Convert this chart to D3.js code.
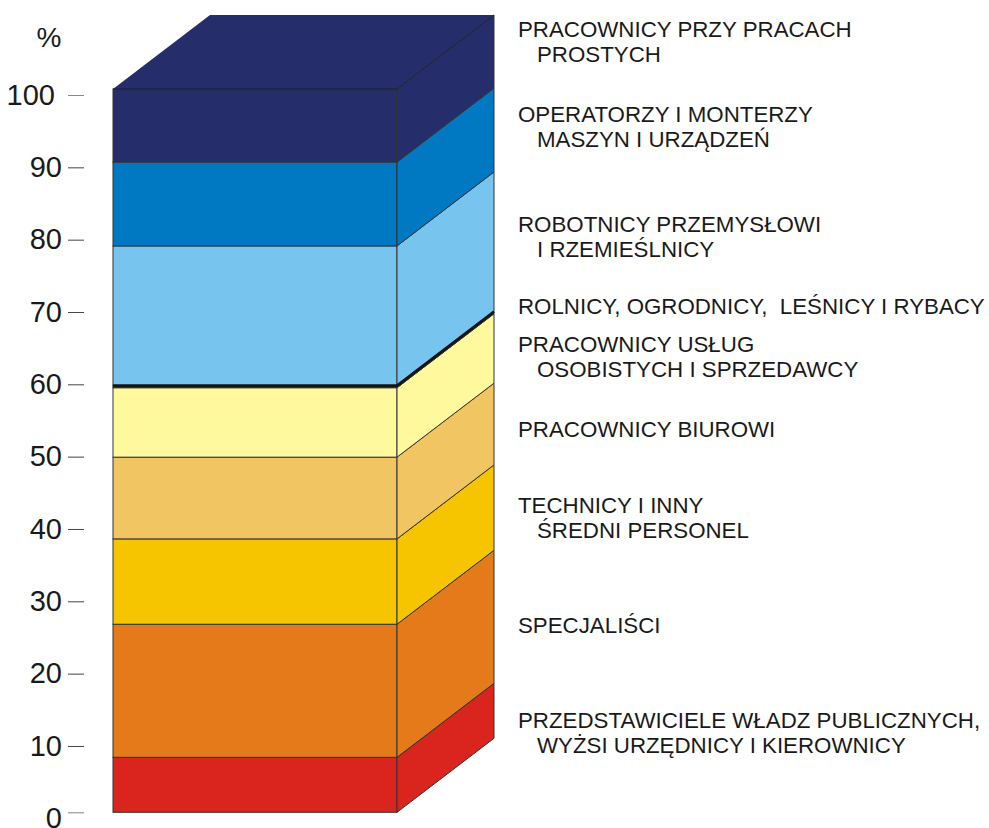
<!DOCTYPE html>
<html>
<head>
<meta charset="utf-8">
<script src="https://cdn.jsdelivr.net/npm/d3@7"></script>
<style>
  body { margin: 0; background: #fff; }
  svg { display: block; font-family: "Liberation Sans", Arial, sans-serif; }
  .lbl { font-size: 22.3px; fill: #1a1a1a; white-space: pre; }
  .axis text { font-size: 29px; fill: #1a1a1a; font-family: "Liberation Sans", Arial, sans-serif; }
  .axis line { stroke: #444; }
</style>
</head>
<body>
<svg id="chart" width="989" height="828"></svg>
<script>
// occupational groups, bottom of the column to the top
var keys = ['kier', 'spec', 'tech', 'biur', 'uslug', 'roln', 'robot', 'oper', 'prost']
var labels = [
  ['PRZEDSTAWICIELE WŁADZ PUBLICZNYCH,', 'WYŻSI URZĘDNICY I KIEROWNICY'],
  ['SPECJALIŚCI'],
  ['TECHNICY I INNY', 'ŚREDNI PERSONEL'],
  ['PRACOWNICY BIUROWI'],
  ['PRACOWNICY USŁUG', 'OSOBISTYCH I SPRZEDAWCY'],
  ['ROLNICY, OGRODNICY,  LEŚNICY I RYBACY'],
  ['ROBOTNICY PRZEMYSŁOWI', 'I RZEMIEŚLNICY'],
  ['OPERATORZY I MONTERZY', 'MASZYN I URZĄDZEŃ'],
  ['PRACOWNICY PRZY PRACACH', 'PROSTYCH']
]
var values = [7.6, 18.4, 11.8, 11.3, 9.6, 0.3, 19.3, 11.6, 10.1]
var colors = ['#d9251e', '#e57a1a', '#f7c400', '#f0c562', '#fff99d', '#151515', '#77c5ef', '#0079c2', '#252d6a']
var ticks = [0, 10, 20, 30, 40, 50, 60, 70, 80, 90, 100]
// small vertical nudges for the labels next to the column
var labelNudge = [22, 8, 10, 5, 8, -7, -5, -4, -10]

var svg = d3.select('#chart')

var barLeft = 113, barRight = 397, depthX = 97, depthY = -74

var y = d3.scaleLinear().domain([0, 100]).range([812.3, 89])
var yAxisScale = d3.scaleLinear().domain([0, 100]).range([818.3, 95])

var row = {}
keys.forEach(function(k, i) { row[k] = values[i] })
var series = d3.stack().keys(keys)([row])

var g = svg.append('g')

series.forEach(function(s, i) {
  var y0 = y(s[0][0]), y1 = y(s[0][1])
  g.append('rect')
    .attr('x', barLeft)
    .attr('y', y1)
    .attr('width', barRight - barLeft)
    .attr('height', y0 - y1)
    .attr('fill', colors[i])
    .attr('stroke', '#333')
    .attr('stroke-width', 1)
  g.append('polygon')
    .attr('points', [
      [barRight, y1], [barRight + depthX, y1 + depthY],
      [barRight + depthX, y0 + depthY], [barRight, y0]
    ].join(' '))
    .attr('fill', colors[i])
    .attr('stroke', '#333')
    .attr('stroke-width', 1)
})

// top face of the column
var topY = y(100)
g.append('polygon')
  .attr('points', [
    [barLeft, topY], [barRight, topY],
    [barRight + depthX, topY + depthY], [barLeft + depthX, topY + depthY]
  ].join(' '))
  .attr('fill', colors[colors.length - 1])
g.append('line')
  .attr('x1', barLeft).attr('y1', topY)
  .attr('x2', barRight).attr('y2', topY)
  .attr('stroke', '#222').attr('stroke-width', 1)
g.append('line')
  .attr('x1', barRight).attr('y1', topY)
  .attr('x2', barRight + depthX).attr('y2', topY + depthY)
  .attr('stroke', '#222').attr('stroke-width', 1)

// rolnicy band drawn as a heavy line
var roln = series[5][0]
g.append('polyline')
  .attr('points', [[barLeft, y(roln[1])], [barRight, y(roln[1])], [barRight + depthX, y(roln[1]) + depthY]].join(' '))
  .attr('fill', 'none')
  .attr('stroke', '#151515')
  .attr('stroke-width', 2.5)

// axis
var axis = svg.append('g')
  .attr('class', 'axis')
  .attr('transform', 'translate(84,0)')
  .call(d3.axisLeft(yAxisScale).tickValues(ticks).tickSize(16).tickPadding(6))
axis.select('.domain').remove()
// the zero tick mark sits on the column's base, its label stays put
axis.selectAll('.tick').filter(function(d) { return d === 0 })
  .select('line')
  .attr('transform', 'translate(0,' + (y(0) - yAxisScale(0)) + ')')
  .style('stroke', '#888')
var t100 = axis.selectAll('.tick').filter(function(d) { return d === 100 })
t100.select('text').attr('dx', -7)
t100.select('line').style('stroke', '#888')

svg.append('text')
  .attr('x', 49).attr('y', 47)
  .attr('text-anchor', 'middle')
  .style('font-size', '28px')
  .style('fill', '#1a1a1a')
  .text('%')

// labels, centred on the back edge of each band
series.forEach(function(s, i) {
  var mid = (y(s[0][0]) + y(s[0][1])) / 2 + depthY + labelNudge[i]
  var lines = labels[i]
  var first = lines.length === 1 ? mid + 8 : mid - 4.5
  var t = svg.append('text')
    .attr('class', 'lbl')
    .attr('x', 518)
    .attr('y', first)
  lines.forEach(function(line, j) {
    t.append('tspan')
      .attr('x', j === 0 ? 518 : 537)
      .attr('dy', j === 0 ? 0 : 25)
      .text(line)
  })
})
</script>
</body>
</html>
